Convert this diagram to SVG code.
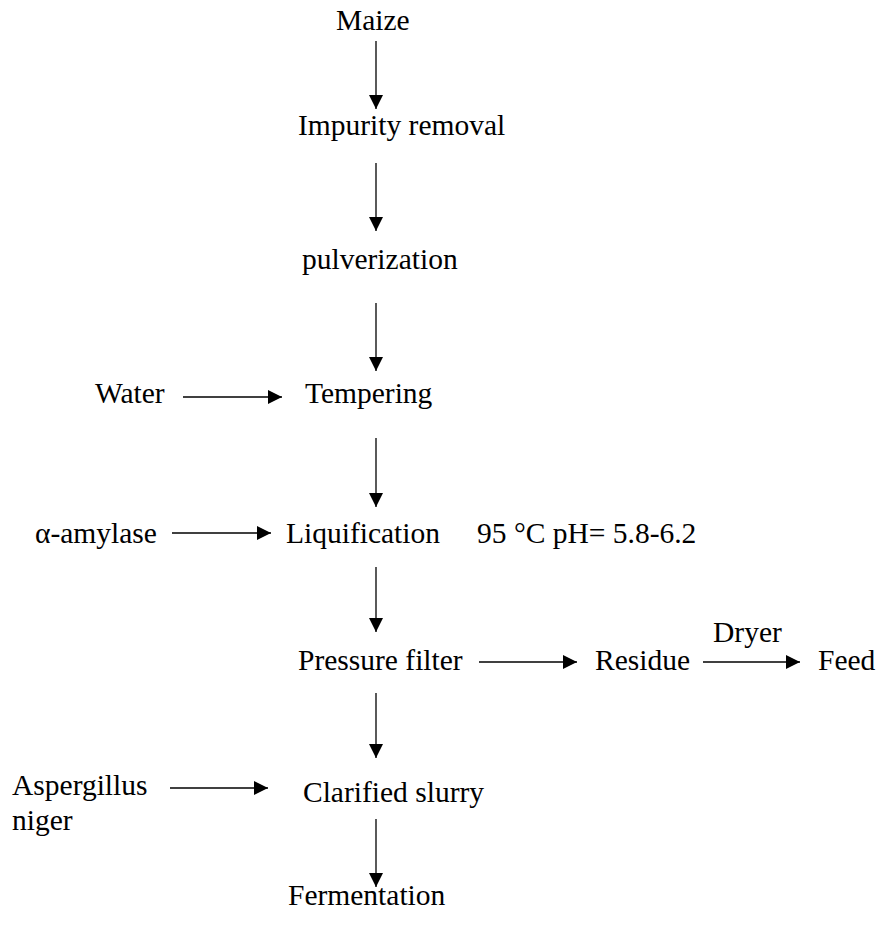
<svg xmlns="http://www.w3.org/2000/svg" width="882" height="926" viewBox="0 0 882 926">
<defs>
<style>
text{font-family:'Liberation Serif','Times New Roman',Tinos,'DejaVu Serif',serif;font-size:29.5px;fill:#000}
.c line{stroke:#000;stroke-width:1.3;marker-end:url(#ah)}
</style>
<marker id="ah" markerUnits="userSpaceOnUse" markerWidth="14" markerHeight="14" refX="14" refY="7" orient="auto">
<path d="M0,0 L14,7 L0,14 z" fill="#000"/>
</marker>
</defs>
<rect width="882" height="926" fill="#fff"/>
<g id="maize"><text x="336" y="30" font-family="Liberation Serif, serif">Maize</text></g>
<g id="impurity"><text x="298" y="135">Impurity removal</text></g>
<g id="pulverization"><text x="302" y="269">pulverization</text></g>
<g id="water"><text x="95" y="403">Water</text></g>
<g id="tempering"><text x="305" y="403">Tempering</text></g>
<g id="amylase"><text x="35" y="543">α-amylase</text></g>
<g id="liquification"><text x="286" y="543">Liquification</text></g>
<g id="conditions"><text x="477" y="543">95 °C pH= 5.8-6.2</text></g>
<g id="pressure"><text x="298" y="670">Pressure filter</text></g>
<g id="residue"><text x="595" y="670">Residue</text></g>
<g id="dryer"><text x="713" y="642">Dryer</text></g>
<g id="feed"><text x="818" y="670">Feed</text></g>
<g id="aspergillus"><text x="12" y="795">Aspergillus</text><text x="12" y="830">niger</text></g>
<g id="clarified"><text x="303" y="802">Clarified slurry</text></g>
<g id="fermentation"><text x="288" y="905">Fermentation</text></g>
<g id="connectors" class="c">
<line x1="376" y1="41" x2="376" y2="109"/>
<line x1="376" y1="163" x2="376" y2="231"/>
<line x1="376" y1="303" x2="376" y2="371"/>
<line x1="376" y1="438" x2="376" y2="507"/>
<line x1="376" y1="567" x2="376" y2="632"/>
<line x1="376" y1="693" x2="376" y2="758"/>
<line x1="376" y1="819" x2="376" y2="887"/>
<line x1="183" y1="397" x2="282" y2="397"/>
<line x1="172" y1="533" x2="271" y2="533"/>
<line x1="479" y1="662" x2="577" y2="662"/>
<line x1="703" y1="662" x2="800" y2="662"/>
<line x1="170" y1="788" x2="268" y2="788"/>
</g>
</svg>
